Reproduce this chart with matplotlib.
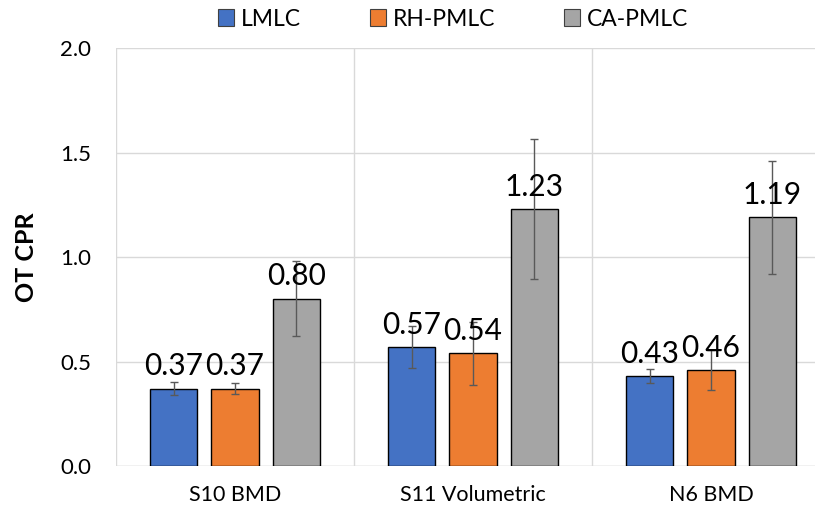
import numpy as np
import matplotlib.pyplot as plt
from matplotlib.patches import Patch

plt.rcParams['font.family'] = ['Lato', 'DejaVu Sans']

categories = ['S10 BMD', 'S11 Volumetric', 'N6 BMD']
series = ['LMLC', 'RH-PMLC', 'CA-PMLC']
colors = ['#4472C4', '#ED7D31', '#A5A5A5']
values = [[0.37, 0.57, 0.43],
          [0.37, 0.54, 0.46],
          [0.80, 1.23, 1.19]]
errors = [[0.03, 0.10, 0.035],
          [0.025, 0.15, 0.095],
          [0.18, 0.335, 0.27]]

fig = plt.figure(figsize=(8.15, 5.15), dpi=100)
ax = fig.add_axes([0.1423, 0.0951, 0.876, 0.8117])

x = np.arange(len(categories))
step = 0.258
width = 0.2
for i, s in enumerate(series):
    pos = x + (i - 1) * step
    ax.bar(pos, values[i], width, color=colors[i], edgecolor='black', linewidth=1, zorder=3)
    ax.errorbar(pos, values[i], yerr=errors[i], fmt='none', ecolor='#595959',
                elinewidth=1, capsize=3, capthick=1, zorder=4)
    for p, v in zip(pos, values[i]):
        ax.annotate(f'{v:.2f}', (p, v), xytext=(0, 6), textcoords='offset points',
                    ha='center', va='bottom', fontsize=21.5, zorder=5)

ax.set_xlim(-0.5, 2.5)
ax.set_ylim(0, 2.0)
ax.set_yticks([0, 0.5, 1.0, 1.5, 2.0])
ax.set_yticklabels([f'{t:.1f}' for t in [0, 0.5, 1.0, 1.5, 2.0]], fontsize=16)
ax.set_xticks(x)
ax.set_xticklabels(categories, fontsize=15.5)
ax.tick_params(axis='y', length=0, pad=18)
ax.tick_params(axis='x', length=0, pad=14)
ax.yaxis.grid(True, color='#D9D9D9', linewidth=1, zorder=0)
for b in [-0.5, 0.5, 1.5]:
    ax.axvline(b, color='#D9D9D9', linewidth=1, zorder=0)
for sp in ax.spines.values():
    sp.set_visible(False)
ax.axhline(0, color='#D9D9D9', linewidth=1, zorder=1)
ax.set_ylabel('OT CPR', fontsize=18, fontweight='bold', labelpad=16)

handles = [Patch(facecolor=c, edgecolor='#404040', linewidth=0.8) for c in colors]
fig.legend(handles, series, loc='center', bbox_to_anchor=(453 / 815, 1 - 19 / 515), ncol=3,
           frameon=False, fontsize=16.5, handlelength=0.7, handleheight=0.7,
           handletextpad=0.3, columnspacing=3.0)

fig.savefig('out.png', dpi=100)
